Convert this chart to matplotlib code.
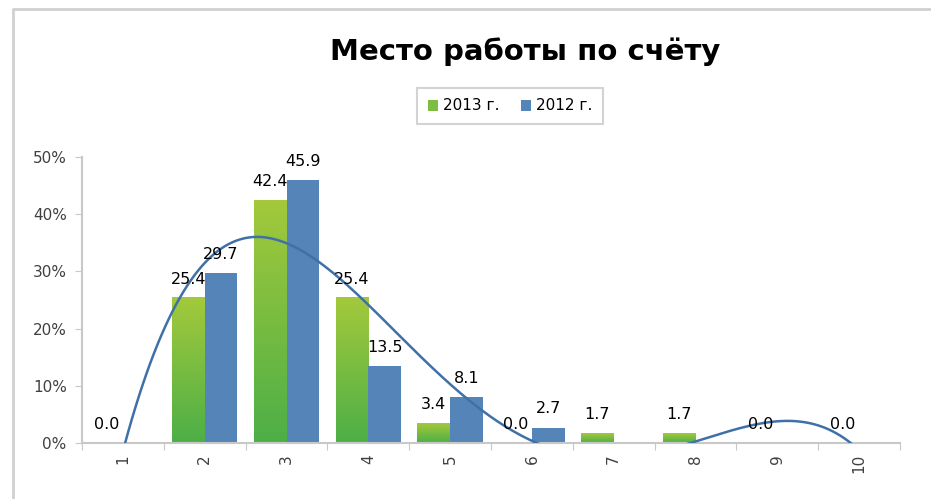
import numpy as np
import matplotlib
matplotlib.use("Agg")
import matplotlib.pyplot as plt
from matplotlib.colors import LinearSegmentedColormap
from matplotlib.patches import Patch
from matplotlib.lines import Line2D

# data (percent)
categories = ["1", "2", "3", "4", "5", "6", "7", "8", "9", "10"]
y2013 = [0.0, 25.4, 42.4, 25.4, 3.4, 0.0, 1.7, 1.7, 0.0, 0.0]
y2012 = [None, 29.7, 45.9, 13.5, 8.1, 2.7, None, None, None, None]
labels = ["2013 г.", "2012 г."]

W, H = 931, 499
fig = plt.figure(figsize=(W / 100, H / 100), dpi=100)
ax = fig.add_axes([82 / W, 1 - 443 / H, (900 - 82) / W, (443 - 157) / H])

green_top = "#a3c93b"
green_bot = "#4daf47"
blue = "#5585b8"
gcmap = LinearSegmentedColormap.from_list("g", [green_bot, green_top])
grad = np.linspace(0, 1, 64).reshape(-1, 1)

x = np.arange(1, len(categories) + 1)
bw = 0.40

# 2013 bars with vertical gradient
for xi, v in zip(x, y2013):
    x0 = xi - bw
    if v > 0:
        ax.imshow(grad, extent=[x0, xi, 0, v], origin="lower", aspect="auto",
                  cmap=gcmap, zorder=2)
    ax.annotate(f"{v:.1f}", (xi - bw / 2, v), xytext=(0, 8),
                textcoords="offset points", ha="center", va="bottom",
                fontsize=11.5, color="black", zorder=5)

# 2012 bars
for xi, v in zip(x, y2012):
    if v is None:
        continue
    ax.bar(xi + bw / 2, v, width=bw, color=blue, zorder=2)
    ax.annotate(f"{v:.1f}", (xi + bw / 2, v), xytext=(0, 8),
                textcoords="offset points", ha="center", va="bottom",
                fontsize=11.5, color="black", zorder=5)

# polynomial trend line on 2013 series
coef = np.polyfit(x, y2013, 4)
xs = np.linspace(1, 10, 400)
ax.plot(xs, np.polyval(coef, xs), color="#3f70a8", lw=1.8, zorder=4)

ax.set_xlim(0.5, 10.5)
ax.set_ylim(0, 50)
ax.set_yticks(np.arange(0, 51, 10))
ax.set_yticklabels([f"{t}%" for t in range(0, 51, 10)])
ax.set_xticks(np.arange(0.5, 10.6, 1))
ax.set_xticklabels([])
ax.set_xticks(x, minor=True)
ax.set_xticklabels(categories, minor=True, rotation=90)
ax.tick_params(axis="x", which="minor", length=0, pad=8, labelsize=11,
               labelcolor="#404040")
ax.tick_params(axis="x", which="major", length=5, color="#c8c8c8")
ax.tick_params(axis="y", length=5, color="#c8c8c8", labelsize=11,
               labelcolor="#404040", pad=6)
for s in ["top", "right"]:
    ax.spines[s].set_visible(False)
for s in ["left", "bottom"]:
    ax.spines[s].set_color("#c8c8c8")
    ax.spines[s].set_linewidth(1.5)

fig.text(525 / W, 1 - 52 / H, "Место работы по счёту", ha="center",
         va="center", fontsize=21, fontweight="bold")

handles = [Patch(facecolor="#7dbd41"), Patch(facecolor=blue)]
leg = fig.legend(handles, labels, loc="center", bbox_to_anchor=(510 / W, 1 - 106 / H),
                 ncol=2, fontsize=11, frameon=True, fancybox=False,
                 handlelength=0.7, handleheight=0.7, handletextpad=0.3,
                 columnspacing=1.4, borderpad=0.7, borderaxespad=0)
leg.get_frame().set_edgecolor("#c8c8c8")
leg.get_frame().set_linewidth(1.5)

# outer chart border
fig.add_artist(Line2D([13 / W, 13 / W, 1.0], [0.0, 1 - 9 / H, 1 - 9 / H],
                      transform=fig.transFigure, color="#d0d0d0", lw=2))

fig.savefig("out.png", dpi=100)
